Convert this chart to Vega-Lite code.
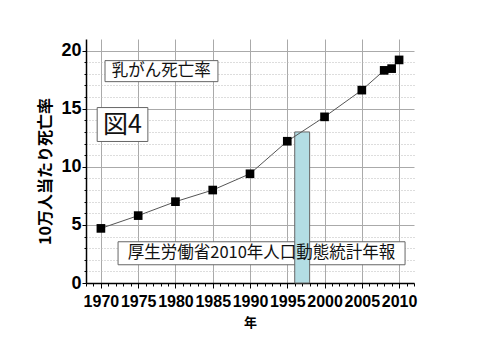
{
  "$schema": "https://vega.github.io/schema/vega-lite/v6.json",
  "autosize": {"type": "none"},
  "width": 328,
  "height": 244,
  "padding": {"left": 86, "top": 39, "right": 66, "bottom": 57},
  "background": "white",
  "config": {
    "view": {"stroke": null},
    "axis": {
      "labelFont": "Liberation Sans",
      "labelFontWeight": "bold",
      "labelFontSize": 16,
      "labelColor": "black",
      "domainColor": "black",
      "domainWidth": 1.5,
      "tickColor": "black",
      "titleFont": "Noto Sans CJK JP",
      "titleFontWeight": "bold",
      "titleColor": "black"
    }
  },
  "datasets": {
    "rate": [
      {"x": 1970, "y": 4.7},
      {"x": 1975, "y": 5.8},
      {"x": 1980, "y": 7.0},
      {"x": 1985, "y": 8.0},
      {"x": 1990, "y": 9.4},
      {"x": 1995, "y": 12.2},
      {"x": 2000, "y": 14.3},
      {"x": 2005, "y": 16.6},
      {"x": 2008, "y": 18.3},
      {"x": 2009, "y": 18.45},
      {"x": 2010, "y": 19.2}
    ],
    "band": [{"x": 1996, "x2": 1998, "y": 0, "y2": 13}],
    "boxes": [
      {"x": 1970.55, "x2": 1985.7, "y": 17.33, "y2": 19.14},
      {"x": 1969.5, "x2": 1976.3, "y": 12.18, "y2": 15.1},
      {"x": 1972.3, "x2": 2010.8, "y": 1.57, "y2": 3.55}
    ],
    "labels": [
      {"label": "乳がん死亡率", "x": 1978.1, "y": 18.24, "size": 16.5},
      {"label": "図4", "x": 1972.9, "y": 13.64, "size": 25},
      {"label": "厚生労働省2010年人口動態統計年報", "x": 1991.55, "y": 2.56, "size": 16.5}
    ]
  },
  "encoding": {
    "x": {
      "field": "x", "type": "quantitative",
      "scale": {"domain": [1968, 2012], "nice": false, "zero": false},
      "axis": {
        "values": [1968,1969,1970,1971,1972,1973,1974,1975,1976,1977,1978,1979,1980,1981,1982,1983,1984,1985,1986,1987,1988,1989,1990,1991,1992,1993,1994,1995,1996,1997,1998,1999,2000,2001,2002,2003,2004,2005,2006,2007,2008,2009,2010,2011,2012],
        "format": "d",
        "labelExpr": "datum.value % 5 === 0 ? datum.label : ''",
        "labelOverlap": false,
        "labelFlush": false,
        "labelPadding": 5,
        "tickSize": {"condition": {"test": "datum.value % 5 === 0", "value": 5}, "value": 3},
        "grid": true,
        "gridColor": "#aaaaaa",
        "gridOpacity": {"condition": {"test": "datum.value % 5 === 0", "value": 1}, "value": 0},
        "gridWidth": 1,
        "title": "年",
        "titleFontSize": 13,
        "titleX": 164,
        "titleY": 39,
        "titleBaseline": "middle"
      }
    },
    "y": {
      "field": "y", "type": "quantitative",
      "scale": {"domain": [0, 21], "nice": false},
      "axis": {
        "values": [0,1,2,3,4,5,6,7,8,9,10,11,12,13,14,15,16,17,18,19,20],
        "labelExpr": "datum.value % 5 === 0 ? datum.label : ''",
        "labelOverlap": false,
        "labelFontSize": 18,
        "labelPadding": 1,
        "tickSize": {"condition": {"test": "datum.value % 5 === 0", "value": 4}, "value": 2},
        "grid": true,
        "gridColor": {"condition": {"test": "datum.value % 5 === 0", "value": "#aaaaaa"}, "value": "#bbbbbb"},
        "gridDash": {"condition": {"test": "datum.value % 5 === 0", "value": []}, "value": [1, 2]},
        "gridWidth": 1,
        "title": "10万人当たり死亡率",
        "titleFontSize": 16,
        "titleAngle": -90,
        "titleX": -41,
        "titleY": 132,
        "titleAlign": "center",
        "titleBaseline": "middle"
      }
    }
  },
  "layer": [
    {
      "data": {"name": "boxes"},
      "mark": {"type": "rect", "fill": "white", "stroke": "#666666", "strokeWidth": 1},
      "encoding": {
        "x2": {"field": "x2"},
        "y2": {"field": "y2"}
      }
    },
    {
      "data": {"name": "band"},
      "mark": {"type": "rect", "fill": "#b3dde4", "stroke": "#666666", "strokeWidth": 1},
      "encoding": {
        "x2": {"field": "x2"},
        "y2": {"field": "y2"}
      }
    },
    {
      "data": {"name": "rate"},
      "mark": {"type": "line", "color": "#555555", "strokeWidth": 1},
      "encoding": {}
    },
    {
      "data": {"name": "rate"},
      "mark": {"type": "square", "color": "black", "filled": true, "opacity": 1, "size": 75},
      "encoding": {}
    },
    {
      "data": {"name": "labels"},
      "mark": {"type": "text", "font": "Noto Sans CJK JP", "color": "#111111", "align": "center", "baseline": "middle"},
      "encoding": {
        "text": {"field": "label"},
        "size": {"field": "size", "type": "quantitative", "scale": null}
      }
    }
  ]
}
